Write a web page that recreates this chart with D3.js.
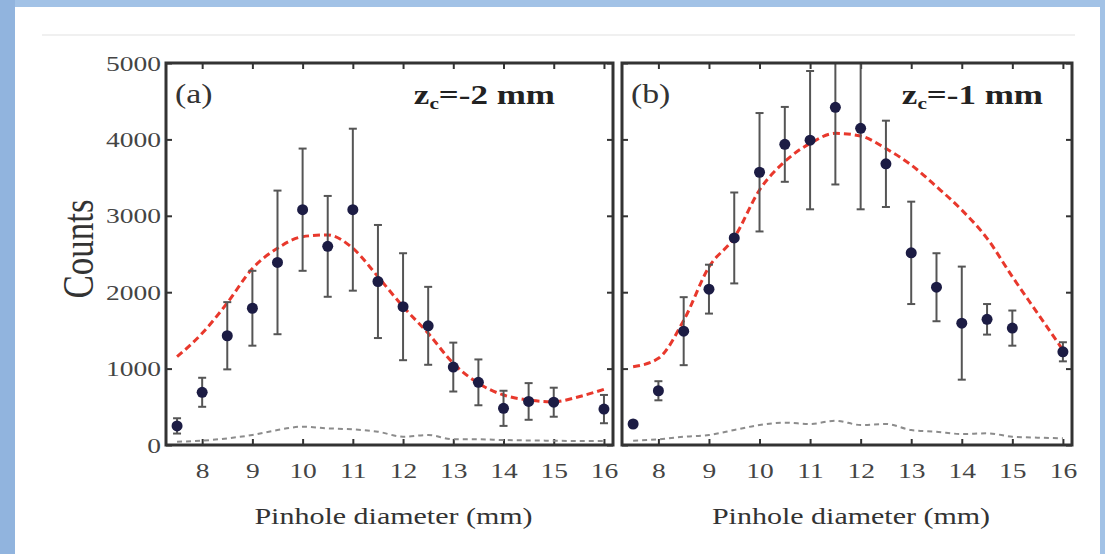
<!DOCTYPE html>
<html>
<head>
<meta charset="utf-8">
<script src="https://cdn.jsdelivr.net/npm/d3@7"></script>
<style>
  body { margin: 0; background: #a2c2e6; }
  svg { display: block; }
  .tick text { font-family: "Liberation Serif", "Times New Roman", serif; font-size: 22px; fill: #444; }
  .tick line { stroke: #333; stroke-width: 2; }
</style>
</head>
<body>
<svg id="chart" width="1105" height="554"></svg>
<script>
// measured pinhole diameters (mm)
var pointDiam = [7.5, 8, 8.5, 9, 9.5, 10, 10.5, 11, 11.5, 12, 12.5, 13, 13.5, 14, 14.5, 15, 16];

// panel (a), zc = -2 mm
var countsA = [250, 690, 1430, 1790, 2390, 3080, 2600, 3080, 2140, 1810, 1560, 1020, 820, 480, 570, 560, 470];
var errA    = [100, 190, 440, 490, 940, 800, 660, 1060, 740, 700, 510, 320, 300, 230, 240, 190, 185];

// panel (b), zc = -1 mm
var countsB = [275, 710, 1490, 2040, 2710, 3570, 3935, 3990, 4420, 4145, 3680, 2515, 2065, 1595, 1645, 1530, 1220];
var errB    = [40, 125, 445, 320, 595, 775, 490, 905, 1010, 1060, 565, 670, 445, 740, 200, 230, 125];

// simulated curves
var modelDiam = [7.5, 8, 8.5, 9, 9.5, 10, 10.5, 11, 11.5, 12, 12.5, 13, 13.5, 14, 14.5, 15, 15.5, 16];
var modelA = [1156, 1462, 1860, 2310, 2575, 2727, 2750, 2575, 2203, 1811, 1462, 1069, 807, 654, 589, 567, 632, 729];
var modelB = [1025, 1134, 1630, 2330, 2714, 3338, 3710, 3948, 4079, 4045, 3880, 3665, 3382, 3076, 2705, 2203, 1724, 1243];
var bgA = [43, 56, 87, 131, 196, 240, 218, 205, 174, 109, 131, 74, 74, 65, 60, 56, 52, 52];
var bgB = [56, 74, 109, 131, 196, 262, 292, 275, 318, 262, 275, 196, 174, 144, 153, 109, 96, 87];

var xTicks = [8, 9, 10, 11, 12, 13, 14, 15, 16];
var yTicks = [0, 1000, 2000, 3000, 4000, 5000];

var STRETCH = 1.25; // text in the picture is wider than the font

var svg = d3.select("#chart");

// slide background
svg.append("rect").attr("width", 1105).attr("height", 554).attr("fill", "#a2c2e6");
svg.append("rect").attr("x", 0).attr("width", 15).attr("height", 554).attr("fill", "#91b4de");
svg.append("rect").attr("x", 15).attr("y", 7).attr("width", 1085).attr("height", 547).attr("fill", "#fff");
svg.append("line").attr("x1", 42).attr("x2", 1075).attr("y1", 35).attr("y2", 35)
  .attr("stroke", "#f0f0f0").attr("stroke-width", 2);

var y = d3.scaleLinear().domain([0, 5000]).range([445, 63]);

var panels = [
  { id: "a", left: 166, right: 613, counts: countsA, err: errA, model: modelA, bg: bgA,
    tag: "(a)", zc: "-2 mm", zcEnd: 555, yLabels: true },
  { id: "b", left: 622, right: 1072, counts: countsB, err: errB, model: modelB, bg: bgB,
    tag: "(b)", zc: "-1 mm", zcEnd: 1043, yLabels: false }
];

function stretchText(sel) {
  sel.attr("transform", "scale(" + STRETCH + ",1)");
}

panels.forEach(function (p) {
  var x = d3.scaleLinear().domain([7.28, 16.18]).range([p.left, p.right]);
  var g = svg.append("g").attr("class", "panel-" + p.id);

  g.append("clipPath").attr("id", "clip-" + p.id)
    .append("rect")
    .attr("x", p.left).attr("y", y(5000))
    .attr("width", p.right - p.left).attr("height", y(0) - y(5000));

  //
  // axes: inward ticks on all four sides
  //
  var bottom = g.append("g").attr("transform", "translate(0," + y(0) + ")")
    .call(d3.axisBottom(x).tickValues(xTicks).tickSizeInner(-6).tickSizeOuter(0).tickPadding(17));
  bottom.selectAll("text").call(stretchText);

  g.append("g").attr("transform", "translate(0," + y(5000) + ")")
    .call(d3.axisTop(x).tickValues(xTicks).tickSizeInner(-6).tickSizeOuter(0).tickFormat(""));

  var left = g.append("g").attr("transform", "translate(" + p.left + ",0)")
    .call(d3.axisLeft(y).tickValues(yTicks).tickSizeInner(-6).tickSizeOuter(0).tickPadding(4)
      .tickFormat(p.yLabels ? d3.format("d") : ""));
  left.selectAll("text").call(stretchText);

  g.append("g").attr("transform", "translate(" + p.right + ",0)")
    .call(d3.axisRight(y).tickValues(yTicks).tickSizeInner(-6).tickSizeOuter(0).tickFormat(""));

  g.selectAll(".domain").remove();

  var plot = g.append("g").attr("clip-path", "url(#clip-" + p.id + ")");

  // grey dashed background curve
  plot.append("path")
    .datum(modelDiam.map(function (d, i) { return [d, p.bg[i]]; }))
    .attr("fill", "none").attr("stroke", "#8c8c8c").attr("stroke-width", 2)
    .attr("stroke-dasharray", "5,4")
    .attr("d", d3.line().x(function (d) { return x(d[0]); }).y(function (d) { return y(d[1]); })
      .curve(d3.curveMonotoneX));

  // red dashed model curve
  plot.append("path")
    .datum(modelDiam.map(function (d, i) { return [d, p.model[i]]; }))
    .attr("fill", "none").attr("stroke", "#e8382c").attr("stroke-width", 3)
    .attr("stroke-dasharray", "7,4")
    .attr("d", d3.line().x(function (d) { return x(d[0]); }).y(function (d) { return y(d[1]); })
      .curve(d3.curveMonotoneX));

  // error bars
  var pts = pointDiam.map(function (d, i) { return { x: d, v: p.counts[i], e: p.err[i] }; });
  var bars = plot.selectAll(".err").data(pts).enter().append("g").attr("class", "err")
    .attr("stroke", "#555").attr("stroke-width", 2);
  bars.append("line")
    .attr("x1", function (d) { return x(d.x); }).attr("x2", function (d) { return x(d.x); })
    .attr("y1", function (d) { return y(d.v - d.e); }).attr("y2", function (d) { return y(d.v + d.e); });
  [1, -1].forEach(function (s) {
    bars.append("line")
      .attr("x1", function (d) { return x(d.x) - 4; }).attr("x2", function (d) { return x(d.x) + 4; })
      .attr("y1", function (d) { return y(d.v + s * d.e); }).attr("y2", function (d) { return y(d.v + s * d.e); });
  });

  // data points
  plot.selectAll(".pt").data(pts).enter().append("circle").attr("class", "pt")
    .attr("cx", function (d) { return x(d.x); })
    .attr("cy", function (d) { return y(d.v); })
    .attr("r", 5.5)
    .attr("fill", "#1c1c44");

  // frame
  g.append("rect")
    .attr("x", p.left).attr("y", y(5000))
    .attr("width", p.right - p.left).attr("height", y(0) - y(5000))
    .attr("fill", "none").attr("stroke", "#333").attr("stroke-width", 3);

  // panel tag
  g.append("g").attr("transform", "translate(" + (p.left + 9) + ",103) scale(" + STRETCH + ",1)")
    .append("text")
    .attr("font-family", "Liberation Serif, serif").attr("font-size", 27).attr("fill", "#333")
    .text(p.tag);

  // zc label
  var zc = g.append("g").attr("transform", "translate(" + p.zcEnd + ",104) scale(" + STRETCH + ",1)")
    .append("text")
    .attr("text-anchor", "end")
    .attr("font-family", "Liberation Serif, serif").attr("font-size", 28).attr("font-weight", "bold")
    .attr("fill", "#222");
  zc.append("tspan").text("z");
  zc.append("tspan").attr("font-size", 17).attr("dy", 5).text("c");
  zc.append("tspan").attr("dy", -5).text("=" + p.zc);

  // x-axis title
  g.append("g").attr("transform", "translate(" + ((p.left + p.right) / 2 + 4) + ",524) scale(" + STRETCH + ",1)")
    .append("text")
    .attr("text-anchor", "middle")
    .attr("font-family", "Liberation Serif, serif").attr("font-size", 24).attr("fill", "#333")
    .text("Pinhole diameter (mm)");
});

// y-axis title
svg.append("g").attr("transform", "translate(93,249) scale(" + STRETCH + ",1) rotate(-90)")
  .append("text")
  .attr("text-anchor", "middle")
  .attr("font-family", "Liberation Serif, serif").attr("font-size", 35).attr("fill", "#333")
  .text("Counts");
</script>
</body>
</html>
